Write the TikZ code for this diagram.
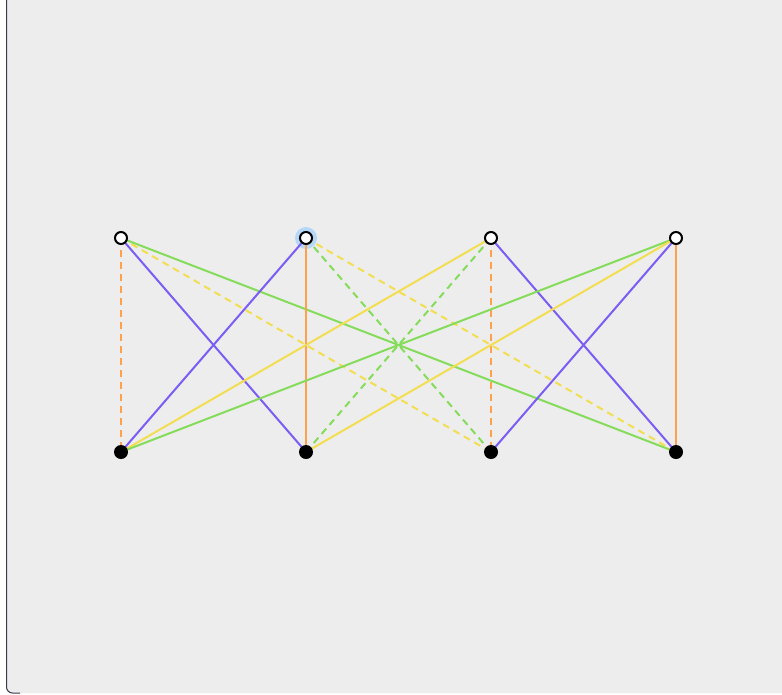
\documentclass[tikz,border=0pt]{standalone}
\begin{document}
\begin{tikzpicture}[x=1pt,y=-1pt,
  edge/.style={line width=2pt},
  dsh/.style={edge,dash pattern=on 7pt off 5pt},
  topnode/.style={circle,draw=black,fill=white,line width=2pt,inner sep=0pt,minimum size=12pt},
  botnode/.style={circle,fill=black,inner sep=0pt,minimum size=14pt},
  halo/.style={circle,fill=halocol,inner sep=0pt,minimum size=22pt}]
\definecolor{bgcol}{HTML}{EDEDED}
\definecolor{orangeE}{HTML}{FFA04D}
\definecolor{purpleE}{HTML}{7B5CF5}
\definecolor{yellowE}{HTML}{F2DE50}
\definecolor{greenE}{HTML}{85DC5A}
\definecolor{halocol}{HTML}{B5D8F8}
\definecolor{edgecol}{HTML}{3A3A4A}
\useasboundingbox (0,0) rectangle (782,694);
\fill[white] (0,0) rectangle (782,694);
\fill[bgcol,rounded corners=6pt] (6.5,-10) rectangle (792,693);
\draw[edgecol,line width=1pt,rounded corners=6pt] (6.5,-10) -- (6.5,693) -- (20,693);
% nodes
\node[halo] (h2) at (306,238) {};
\coordinate (t1) at (121,238);
\coordinate (t2) at (306,238);
\coordinate (t3) at (491,238);
\coordinate (t4) at (676,238);
\coordinate (b1) at (121,452);
\coordinate (b2) at (306,452);
\coordinate (b3) at (491,452);
\coordinate (b4) at (676,452);
% edges
\draw[dsh,orangeE] (t1) -- (b1);
\draw[edge,purpleE] (t1) -- (b2);
\draw[dsh,yellowE] (t1) -- (b3);
\draw[edge,greenE] (t1) -- (b4);
\draw[edge,purpleE] (t2) -- (b1);
\draw[edge,orangeE] (t2) -- (b2);
\draw[dsh,greenE] (t2) -- (b3);
\draw[dsh,yellowE] (t2) -- (b4);
\draw[edge,yellowE] (t3) -- (b1);
\draw[dsh,greenE] (t3) -- (b2);
\draw[dsh,orangeE] (t3) -- (b3);
\draw[edge,purpleE] (t3) -- (b4);
\draw[edge,greenE] (t4) -- (b1);
\draw[edge,yellowE] (t4) -- (b2);
\draw[edge,purpleE] (t4) -- (b3);
\draw[edge,orangeE] (t4) -- (b4);
\foreach \i in {1,2,3,4} {
  \node[topnode] (T\i) at (t\i) {};
  \node[botnode] (B\i) at (b\i) {};
}
\end{tikzpicture}
\end{document}
